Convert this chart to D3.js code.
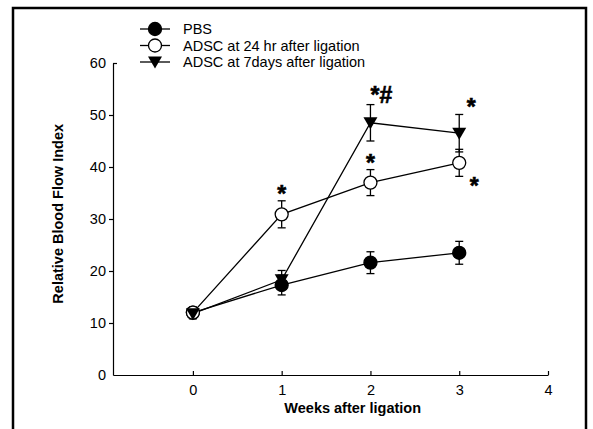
<!DOCTYPE html>
<html>
<head>
<meta charset="utf-8">
<script src="https://cdn.jsdelivr.net/npm/d3@7"></script>
<style>
  body { margin: 0; background: #fff; }
  svg { font-family: Arial, "Liberation Sans", sans-serif; }
</style>
</head>
<body>
<svg id="chart"></svg>
<script>
// data
const weeks = [0, 1, 2, 3];
const seriesNames = ['PBS', 'ADSC at 24 hr after ligation', 'ADSC at 7days after ligation'];
const pbsMean = [12.0, 17.3, 21.6, 23.5];
const pbsErr = [1.0, 1.9, 2.1, 2.2];
const adsc24Mean = [12.0, 30.9, 37.0, 40.8];
const adsc24Err = [1.0, 2.6, 2.5, 2.6];
const adsc7Mean = [11.8, 18.3, 48.5, 46.5];
const adsc7Err = [1.0, 1.8, 3.5, 3.6];
const xTicks = [0, 1, 2, 3, 4];
const yTicks = [0, 10, 20, 30, 40, 50, 60];
// significance marks: series index, week, label, above/below the error bar
const marks = [
    { s: 1, w: 1, label: '*', side: 'up' },
    { s: 1, w: 2, label: '*', side: 'up' },
    { s: 2, w: 2, label: '*#', side: 'up' },
    { s: 2, w: 3, label: '*', side: 'up' },
    { s: 1, w: 3, label: '*', side: 'down' }
];

const series = [
    { name: seriesNames[0], mean: pbsMean, err: pbsErr, shape: 'filled' },
    { name: seriesNames[1], mean: adsc24Mean, err: adsc24Err, shape: 'open' },
    { name: seriesNames[2], mean: adsc7Mean, err: adsc7Err, shape: 'triangle' }
];

const width = 593, height = 429;
const margin = { top: 63, right: 45, bottom: 54, left: 113 };
const fontSize = '14.5px';

const svg = d3.select('#chart')
    .attr('width', width)
    .attr('height', height);

// outer frame
svg.append('rect')
    .attr('x', 13).attr('y', 8)
    .attr('width', 573).attr('height', 440)
    .attr('fill', 'none')
    .attr('stroke', '#000')
    .attr('stroke-width', 2.5);

const inner_width = width - margin.left - margin.right;
const inner_height = height - margin.top - margin.bottom;

const chart = svg.append('g')
    .attr('transform', `translate(${margin.left}, ${margin.top})`);

const xscale = d3.scaleLinear().domain([-0.9, 4]).range([0, inner_width]);
const yscale = d3.scaleLinear().domain([0, 60]).range([inner_height, 0]);

// axes
const xaxis_group = chart.append('g')
    .attr('transform', `translate(0, ${inner_height})`)
    .call(d3.axisBottom(xscale).tickValues(xTicks).tickFormat(d3.format('d'))
        .tickSize(-4).tickPadding(10).tickSizeOuter(0));

const yaxis_group = chart.append('g')
    .call(d3.axisLeft(yscale).tickValues(yTicks).tickFormat(d3.format('d'))
        .tickSize(4).tickPadding(3).tickSizeOuter(0));

[xaxis_group, yaxis_group].forEach(g => {
    g.select('.domain').attr('stroke', '#000').attr('stroke-width', 1.2);
    g.selectAll('.tick line').attr('stroke', '#000').attr('stroke-width', 1.2);
    g.selectAll('.tick text').attr('fill', '#000').style('font-size', fontSize);
});
// top y tick points inward in the original
yaxis_group.selectAll('.tick').filter(d => d === 60).select('line').attr('x2', 4);
yaxis_group.selectAll('.tick').filter(d => d === 0).select('line').remove();

chart.append('text')
    .attr('x', xscale(1.8))
    .attr('y', inner_height + 38)
    .attr('text-anchor', 'middle')
    .style('font-size', fontSize)
    .style('font-weight', 'bold')
    .text('Weeks after ligation');

chart.append('text')
    .attr('transform', 'rotate(-90)')
    .attr('x', -(yscale(31)))
    .attr('y', -50)
    .attr('text-anchor', 'middle')
    .style('font-size', fontSize)
    .style('font-weight', 'bold')
    .text('Relative Blood Flow Index');

const triangle = 'M-7,-5.5L7,-5.5L0,6.5Z';

function drawMarker(g, shape) {
    if (shape === 'triangle') {
        g.append('path').attr('d', triangle).attr('fill', '#000');
    } else {
        g.append('circle')
            .attr('r', 6.5)
            .attr('fill', shape === 'filled' ? '#000' : '#fff')
            .attr('stroke', '#000')
            .attr('stroke-width', 1.3);
    }
}

const line = d3.line()
    .x((d, i) => xscale(weeks[i]))
    .y(d => yscale(d));

// lines
chart.selectAll('path.series-line').data(series).enter()
    .append('path')
    .attr('class', 'series-line')
    .attr('d', d => line(d.mean))
    .attr('fill', 'none')
    .attr('stroke', '#000')
    .attr('stroke-width', 1.3);

// error bars
series.forEach(s => {
    const g = chart.append('g');
    s.mean.forEach((m, i) => {
        const x = xscale(weeks[i]);
        const y1 = yscale(m + s.err[i]);
        const y2 = yscale(m - s.err[i]);
        g.append('line').attr('x1', x).attr('x2', x).attr('y1', y1).attr('y2', y2)
            .attr('stroke', '#000').attr('stroke-width', 1.3);
        [y1, y2].forEach(y => {
            g.append('line').attr('x1', x - 4).attr('x2', x + 4).attr('y1', y).attr('y2', y)
                .attr('stroke', '#000').attr('stroke-width', 1.3);
        });
    });
});

// markers
series.forEach(s => {
    s.mean.forEach((m, i) => {
        const g = chart.append('g')
            .attr('transform', `translate(${xscale(weeks[i])}, ${yscale(m)})`);
        drawMarker(g, s.shape);
    });
});

// significance marks
marks.forEach(mk => {
    const s = series[mk.s];
    const i = weeks.indexOf(mk.w);
    const top = yscale(s.mean[i] + s.err[i]);
    const bottom = yscale(s.mean[i] - s.err[i]);
    let x = xscale(weeks[i]);
    let cy;
    if (mk.side === 'up') {
        cy = top - 12;
        if (mk.w === 3) x += 12;
    } else {
        cy = bottom + 5;
        x += 15;
    }
    if (mk.label === '*#') {
        cy = top - 15;
        x += 11;
    }
    chart.append('text')
        .attr('x', x)
        .attr('y', cy + 13)
        .attr('text-anchor', 'middle')
        .attr('stroke', '#000')
        .attr('stroke-width', 0.6)
        .style('font-size', '23px')
        .style('font-weight', 'bold')
        .text(mk.label);
});

// legend
const legend = svg.append('g').attr('transform', 'translate(140, 29)');
series.forEach((s, i) => {
    const g = legend.append('g').attr('transform', `translate(0, ${i * 16.5})`);
    g.append('line').attr('x1', 0).attr('x2', 30).attr('y1', 0).attr('y2', 0)
        .attr('stroke', '#000').attr('stroke-width', 1.3);
    const mg = g.append('g').attr('transform', 'translate(15, 0)');
    drawMarker(mg, s.shape);
    g.append('text')
        .attr('x', 43)
        .attr('y', 5)
        .style('font-size', fontSize)
        .text(s.name);
});
</script>
</body>
</html>
